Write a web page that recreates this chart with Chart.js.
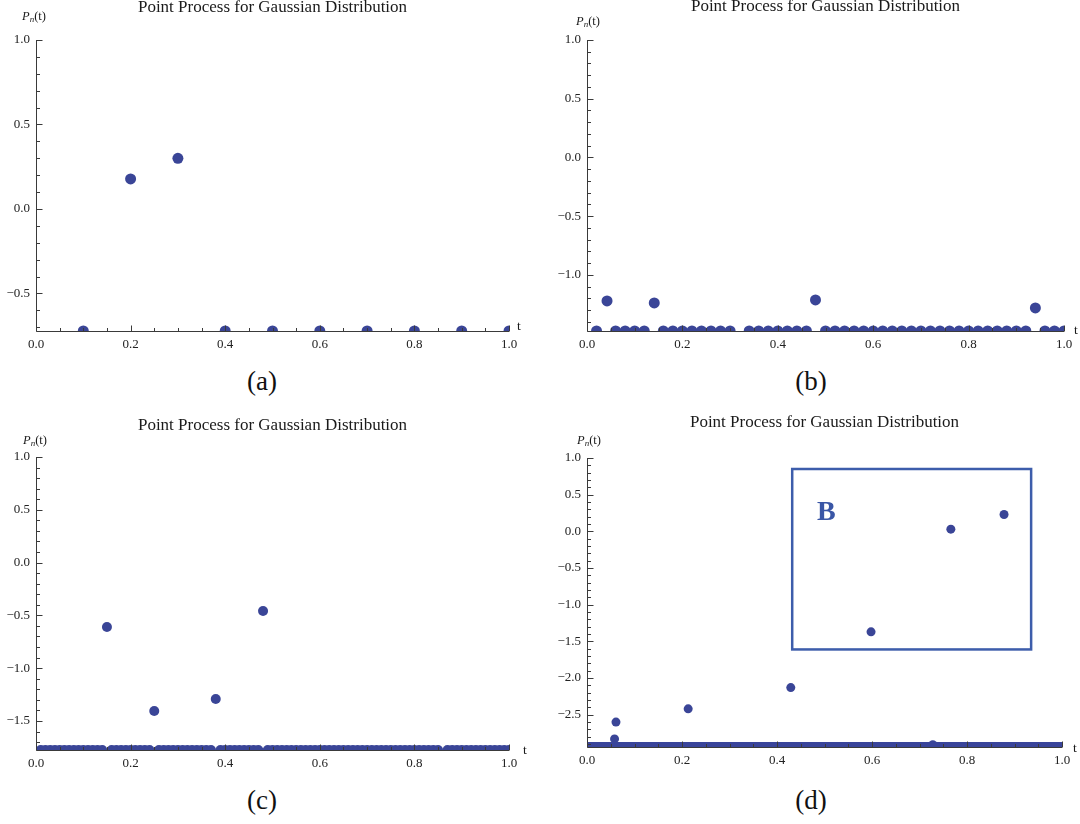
<!DOCTYPE html>
<html>
<head>
<meta charset="utf-8">
<script src="https://cdn.jsdelivr.net/npm/chart.js@4.4.1/dist/chart.umd.min.js"></script>
<style>
  html, body { margin: 0; padding: 0; background: #fff; }
  #wrap { position: relative; width: 1080px; height: 824px; background: #fff; overflow: hidden; }
  canvas { position: absolute; }
  .cap { position: absolute; width: 80px; text-align: center; font-family: "Liberation Serif", "DejaVu Serif", serif; font-size: 27px; color: #111; line-height: 1; }
</style>
</head>
<body>
<div id="wrap">
  <canvas id="ca" width="540" height="360" style="left:0;top:0"></canvas>
  <canvas id="cb" width="540" height="360" style="left:540px;top:0"></canvas>
  <canvas id="cc" width="540" height="360" style="left:0;top:412px"></canvas>
  <canvas id="cd" width="540" height="360" style="left:540px;top:412px"></canvas>
  <div class="cap" style="left:222px;top:368px">(a)</div>
  <div class="cap" style="left:771px;top:368px">(b)</div>
  <div class="cap" style="left:222px;top:787px">(c)</div>
  <div class="cap" style="left:771px;top:787px">(d)</div>
</div>
<script>
// ---------------- DATA ----------------
const titleText = "Point Process for Gaussian Distribution";
const xTicks = [0, 0.2, 0.4, 0.6, 0.8, 1.0];

// panel (a)
const aYMin = -0.722;
const aYTicks = [-0.5, 0, 0.5, 1.0];
const aT = [0.1, 0.2, 0.3, 0.4, 0.5, 0.6, 0.7, 0.8, 0.9, 1.0];
const aV = [-0.722, 0.178, 0.30, -0.722, -0.722, -0.722, -0.722, -0.722, -0.722, -0.722];

// panel (b)
const bYMin = -1.477;
const bYTicks = [-1.0, -0.5, 0, 0.5, 1.0];
const bUpperT = [0.042, 0.141, 0.479, 0.94];
const bUpperV = [-1.221, -1.238, -1.213, -1.281];
const bFloorT = [0.02, 0.06, 0.08, 0.10, 0.12, 0.16, 0.18, 0.20, 0.22, 0.24, 0.26, 0.28, 0.30,
  0.34, 0.36, 0.38, 0.40, 0.42, 0.44, 0.46, 0.50, 0.52, 0.54, 0.56, 0.58, 0.60, 0.62, 0.64,
  0.66, 0.68, 0.70, 0.72, 0.74, 0.76, 0.78, 0.80, 0.82, 0.84, 0.86, 0.88, 0.90, 0.92,
  0.96, 0.98, 1.00];
const bFloorV = -1.477;

// panel (c)
const cYMin = -1.775;
const cYTicks = [-1.5, -1.0, -0.5, 0, 0.5, 1.0];
const cUpperT = [0.15, 0.25, 0.38, 0.48];
const cUpperV = [-0.61, -1.405, -1.292, -0.458];
const cFloorT = [0.01, 0.02, 0.03, 0.04, 0.05, 0.06, 0.07, 0.08, 0.09, 0.10, 0.11, 0.12, 0.13, 0.14,
  0.16, 0.17, 0.18, 0.19, 0.20, 0.21, 0.22, 0.23, 0.24,
  0.26, 0.27, 0.28, 0.29, 0.30, 0.31, 0.32, 0.33, 0.34, 0.35, 0.36, 0.37,
  0.39, 0.40, 0.41, 0.42, 0.43, 0.44, 0.45, 0.46, 0.47,
  0.49, 0.50, 0.51, 0.52, 0.53, 0.54, 0.55, 0.56, 0.57, 0.58, 0.59, 0.60, 0.61, 0.62, 0.63,
  0.64, 0.65, 0.66, 0.67, 0.68, 0.69, 0.70, 0.71, 0.72, 0.73, 0.74, 0.75, 0.76, 0.77, 0.78,
  0.79, 0.80, 0.81, 0.82, 0.83, 0.84, 0.85,
  0.87, 0.88, 0.89, 0.90, 0.91, 0.92, 0.93, 0.94, 0.95, 0.96, 0.97, 0.98, 0.99, 1.00];
const cFloorV = -1.775;

// panel (d)
const dYMin = -2.94;
const dYTicks = [-2.5, -2.0, -1.5, -1.0, -0.5, 0, 0.5, 1.0];
const dT = [0.058, 0.061, 0.213, 0.429, 0.598, 0.766, 0.878, 0.728];
const dV = [-2.83, -2.60, -2.42, -2.13, -1.37, 0.03, 0.23, -2.91];
const dBandT = [0, 1];
const dBandV = [-2.94, -2.94];
const dBoxT = [0.432, 0.935];
const dBoxV = [-1.61, 0.85];
const dBoxLabel = "B";
const dBoxLabelPos = [0.484, 0.15];

// ---------------- STYLE / HELPERS ----------------
const DOT = '#3a4597';
const AXIS = '#3a3a3a';
const SERIF = '"Liberation Serif", "Times New Roman", serif';
const pts = (ts, vs) => ts.map((t, i) => ({ x: t, y: Array.isArray(vs) ? vs[i] : vs }));
const fmt = v => (v < -1e-9 ? '\u2212' : '') + Math.abs(v).toFixed(1);

const decor = {
  id: 'decor',
  afterDatasetsDraw(chart) {
    const o = chart.options.plugins.decor;
    const { ctx, chartArea: a, scales: { x, y } } = chart;
    ctx.save();
    // annotation box
    if (o.box) {
      const x0 = x.getPixelForValue(o.box.t[0]), x1 = x.getPixelForValue(o.box.t[1]);
      const y0 = y.getPixelForValue(o.box.v[1]), y1 = y.getPixelForValue(o.box.v[0]);
      ctx.strokeStyle = '#3d5dab';
      ctx.lineWidth = 2.5;
      ctx.strokeRect(x0, y0, x1 - x0, y1 - y0);
      ctx.fillStyle = '#3a56a6';
      ctx.font = 'bold 28px ' + SERIF;
      ctx.textAlign = 'left';
      ctx.textBaseline = 'alphabetic';
      ctx.fillText(o.box.label, x.getPixelForValue(o.box.pos[0]), y.getPixelForValue(o.box.pos[1]));
    }
    // axes
    ctx.strokeStyle = AXIS;
    ctx.lineWidth = 1;
    const L = Math.round(a.left) + 0.5, B = Math.round(a.bottom) + 0.5;
    ctx.beginPath();
    ctx.moveTo(L, a.top); ctx.lineTo(L, B);
    ctx.moveTo(L, B); ctx.lineTo(a.right, B);
    ctx.stroke();
    // ticks y (inward)
    ctx.beginPath();
    for (let k = Math.ceil(y.min * 10 - 1e-6); k <= Math.floor(y.max * 10 + 1e-6); k++) {
      const v = k / 10;
      const major = Math.abs(k % 5) === 0;
      const py = Math.round(y.getPixelForValue(v)) + 0.5;
      ctx.moveTo(L, py); ctx.lineTo(L + (major ? 6 : 3.5), py);
    }
    // ticks x (inward)
    for (let k = 0; k <= 20; k++) {
      const v = k / 20;
      const major = k % 4 === 0;
      const px = Math.round(x.getPixelForValue(v)) + 0.5;
      ctx.moveTo(px, B); ctx.lineTo(px, B - (major ? 6 : 3.5));
    }
    ctx.stroke();
    // title
    ctx.fillStyle = '#1a1a1a';
    ctx.font = '17px ' + SERIF;
    ctx.textAlign = 'center';
    ctx.textBaseline = 'middle';
    ctx.fillText(titleText, (a.left + a.right) / 2, a.top + o.titleDy);
    // y label P_n(t)
    let px = a.left + o.pDx, py = a.top + o.pDy;
    ctx.textAlign = 'left';
    ctx.textBaseline = 'middle';
    ctx.font = 'italic 12.5px ' + SERIF;
    ctx.fillText('P', px, py);
    px += ctx.measureText('P').width;
    ctx.font = 'italic 9px ' + SERIF;
    ctx.fillText('n', px, py + 3);
    px += ctx.measureText('n').width;
    ctx.font = '12.5px ' + SERIF;
    ctx.fillText('(t)', px, py);
    // x label t
    ctx.font = '13.5px ' + SERIF;
    ctx.fillText('t', a.right + o.tDx, a.bottom + o.tDy);
    ctx.restore();
  }
};

function makePanel(id, cfg) {
  new Chart(document.getElementById(id), {
    type: 'scatter',
    data: { datasets: cfg.datasets },
    options: {
      responsive: false,
      animation: false,
      layout: { padding: cfg.pad },
      plugins: {
        legend: { display: false },
        tooltip: { enabled: false },
        decor: cfg.decor
      },
      scales: {
        x: {
          type: 'linear', min: 0, max: 1,
          afterBuildTicks: s => { s.ticks = xTicks.map(v => ({ value: v })); },
          afterFit: s => { s.height = 22; },
          grid: { display: false, drawTicks: false },
          border: { display: false },
          ticks: { callback: v => fmt(v), padding: 6, maxRotation: 0, autoSkip: false,
                   color: '#222', font: { family: SERIF, size: 13 } }
        },
        y: {
          type: 'linear', min: cfg.yMin, max: 1.0,
          afterBuildTicks: s => { s.ticks = cfg.yTicks.map(v => ({ value: v })); },
          afterFit: s => { s.width = 34; },
          grid: { display: false, drawTicks: false },
          border: { display: false },
          ticks: { callback: v => fmt(v), padding: 6, autoSkip: false,
                   color: '#222', font: { family: SERIF, size: 13 } }
        }
      }
    },
    plugins: [decor]
  });
}

const dotSet = (data, r) => ({ data, pointRadius: r, pointHoverRadius: r, backgroundColor: DOT, borderWidth: 0, clip: 0 });

makePanel('ca', {
  yMin: aYMin, yTicks: aYTicks,
  pad: { left: 2, top: 40, right: 31, bottom: 7 },
  datasets: [dotSet(pts(aT, aV), 5.5)],
  decor: { titleDy: -32, pDx: -14, pDy: -23, tDx: 8, tDy: -5 }
});
makePanel('cb', {
  yMin: bYMin, yTicks: bYTicks,
  pad: { left: 13, top: 40, right: 16, bottom: 7 },
  datasets: [dotSet(pts(bFloorT, bFloorV), 5.5), dotSet(pts(bUpperT, bUpperV), 5.5)],
  decor: { titleDy: -33, pDx: -11, pDy: -18, tDx: 10, tDy: -1 }
});
makePanel('cc', {
  yMin: cYMin, yTicks: cYTicks,
  pad: { left: 2, top: 45, right: 31, bottom: 0 },
  datasets: [dotSet(pts(cFloorT, cFloorV), 5), dotSet(pts(cUpperT, cUpperV), 5)],
  decor: { titleDy: -31, pDx: -13, pDy: -16, tDx: 14, tDy: 0 }
});
makePanel('cd', {
  yMin: dYMin, yTicks: dYTicks,
  pad: { left: 13, top: 46, right: 18, bottom: 3 },
  datasets: [
    { type: 'line', data: pts(dBandT, dBandV), borderColor: '#39449a', borderWidth: 10,
      pointRadius: 0, borderCapStyle: 'butt', clip: 0 },
    dotSet(pts(dT, dV), 4.5)
  ],
  decor: { titleDy: -35, pDx: -10, pDy: -17, tDx: 11, tDy: 1,
           box: { t: dBoxT, v: dBoxV, label: dBoxLabel, pos: dBoxLabelPos } }
});
</script>
</body>
</html>
